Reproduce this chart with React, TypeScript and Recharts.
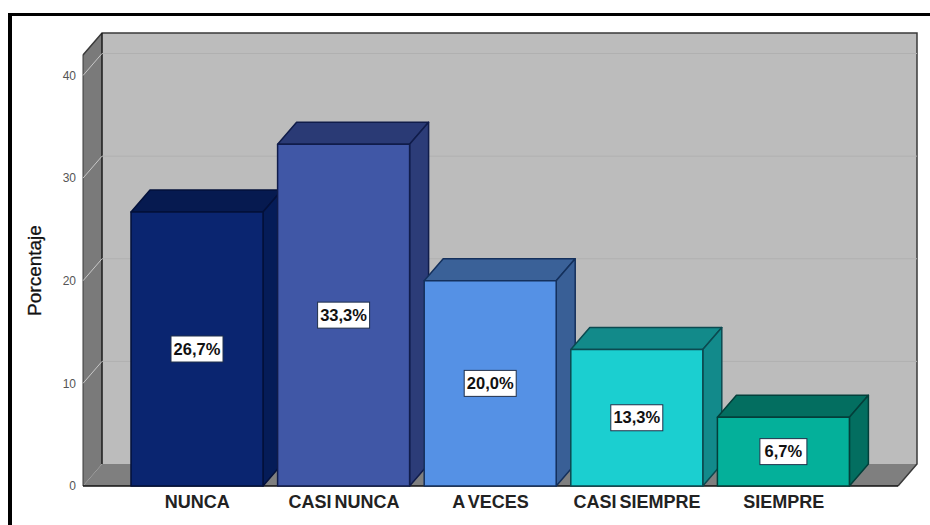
import React from "react";
import {
  BarChart,
  Bar,
  XAxis,
  YAxis,
  ReferenceArea,
  LabelList,
} from "recharts";

// Survey answer categories and their share of responses
const categories = ["NUNCA", "CASI NUNCA", "A VECES", "CASI SIEMPRE", "SIEMPRE"];
const percentages = [26.7, 33.3, 20.0, 13.3, 6.7];
const valueLabels = ["26,7%", "33,3%", "20,0%", "13,3%", "6,7%"];
const yTicks = [0, 10, 20, 30, 40];
const wallLines = [10, 20, 30, 40];

// Face colours for each 3D column
const frontColors = ["#0a2570", "#4057a6", "#5591e5", "#1bcfd0", "#04b09a"];
const topColors = ["#061a50", "#2a3a75", "#3a6198", "#128a8a", "#036e60"];
const sideColors = ["#051c58", "#2c3c78", "#395f96", "#128a8b", "#036e60"];
const edgeColors = ["#03103a", "#101c4a", "#14305c", "#0b4a50", "#033f3a"];

// Extrusion of the 3D box, in pixels
const DEPTH_X = 19;
const DEPTH_Y = 22;
// Gap between the plot edges and the first and last category bands
const PAD = 41;

const FONT = "'Liberation Sans', Arial, sans-serif";

const rows = categories.map((name, i) => ({ name, value: percentages[i] }));

const pts = (list: number[][]) => list.map((p) => p.join(",")).join(" ");

// Box column: front face, top face and right-hand side face
function Column(props: any) {
  const { x, y, width, height, index } = props;
  const r = x + width;
  const b = y + height;
  const edge = edgeColors[index];
  return (
    <g stroke={edge} strokeWidth={1.5} strokeLinejoin="round">
      <polygon
        fill={topColors[index]}
        points={pts([[x, y], [x + DEPTH_X, y - DEPTH_Y], [r + DEPTH_X, y - DEPTH_Y], [r, y]])}
      />
      <polygon
        fill={sideColors[index]}
        points={pts([[r, y], [r + DEPTH_X, y - DEPTH_Y], [r + DEPTH_X, b - DEPTH_Y], [r, b]])}
      />
      <rect x={x} y={y} width={width} height={height} fill={frontColors[index]} />
    </g>
  );
}

// Chart box: back wall, left wall and floor behind the columns.
// The area spans the category bands, so the axis padding is added back on each side.
function Room(props: any) {
  const { y, height } = props;
  const x = props.x - PAD;
  const r = props.x + props.width + PAD;
  const b = y + height;
  return (
    <g>
      <rect x={x + DEPTH_X} y={y - DEPTH_Y} width={r - x} height={height} fill="#bcbcbc" />
      <polygon
        fill="#7a7a7a"
        points={pts([[x, y], [x + DEPTH_X, y - DEPTH_Y], [x + DEPTH_X, b - DEPTH_Y], [x, b]])}
      />
      <polygon
        fill="#7f7f7f"
        points={pts([[x, b], [x + DEPTH_X, b - DEPTH_Y], [r + DEPTH_X, b - DEPTH_Y], [r, b]])}
      />
      <polyline
        fill="none"
        stroke="#3a3a3a"
        strokeWidth={1.5}
        points={pts([[x, y], [x + DEPTH_X, y - DEPTH_Y], [r + DEPTH_X, y - DEPTH_Y], [r + DEPTH_X, b - DEPTH_Y], [r, b]])}
      />
      <line x1={x + DEPTH_X} y1={y - DEPTH_Y} x2={x + DEPTH_X} y2={b - DEPTH_Y} stroke="#1a1a1a" strokeWidth={1.5} />
      <line x1={x} y1={y} x2={x} y2={b} stroke="#3a3a3a" strokeWidth={1} />
      <line x1={x} y1={b} x2={r} y2={b} stroke="#111" strokeWidth={1.5} />
    </g>
  );
}

// Grid line running up the left wall and across the back wall
function WallLine(props: any) {
  const { y } = props;
  const x = props.x - PAD;
  const r = props.x + props.width + PAD;
  return (
    <g fill="none">
      <line x1={x} y1={y} x2={x + DEPTH_X} y2={y - DEPTH_Y} stroke="#c8c8c8" strokeWidth={1} />
      <line x1={x + DEPTH_X} y1={y - DEPTH_Y} x2={r + DEPTH_X} y2={y - DEPTH_Y} stroke="#b0b0b0" strokeWidth={1} />
    </g>
  );
}

// White tag with the percentage, centred on the front face
function ValueTag(props: any) {
  const { x, y, width, height, index } = props;
  const text = valueLabels[index];
  const w = text.length > 4 ? 52 : 47;
  const h = 26;
  const cx = x + width / 2;
  const cy = y + height / 2;
  return (
    <g>
      <rect x={cx - w / 2} y={cy - h / 2} width={w} height={h} fill="#ffffff" stroke="#20304a" strokeWidth={1} />
      <text
        x={cx}
        y={cy + 5.5}
        textAnchor="middle"
        fontFamily={FONT}
        fontSize={16.5}
        fontWeight={700}
        fill="#111"
      >
        {text}
      </text>
    </g>
  );
}

export default function App() {
  return (
    <div style={{ position: "absolute", left: 0, top: 0, width: 930, height: 525, background: "#fff", overflow: "hidden" }}>
      <div style={{ position: "absolute", left: 8, top: 13, right: 0, height: 3, background: "#000" }} />
      <div style={{ position: "absolute", left: 8, top: 13, bottom: 0, width: 4, background: "#000" }} />
      <BarChart
        width={930}
        height={525}
        data={rows}
        margin={{ top: 55, right: 32, bottom: 0, left: 8 }}
        style={{ position: "absolute", left: 0, top: 0 }}
      >
        <ReferenceArea y1={0} y2={42} ifOverflow="visible" shape={<Room />} />
        {wallLines.map((t) => (
          <ReferenceArea key={t} y1={t} y2={t} ifOverflow="visible" shape={<WallLine />} />
        ))}
        <XAxis
          dataKey="name"
          height={39}
          interval={0}
          padding={{ left: PAD, right: PAD }}
          axisLine={false}
          tickLine={false}
          tickMargin={3}
          tick={{ fontFamily: FONT, fontSize: 18, fontWeight: 700, fill: "#222", wordSpacing: -2 } as any}
        />
        <YAxis
          width={75}
          domain={[0, 42]}
          ticks={yTicks}
          axisLine={false}
          tickLine={false}
          tickMargin={1}
          tick={{ fontFamily: FONT, fontSize: 12, fill: "#555" }}
          label={{
            value: "Porcentaje",
            angle: -90,
            position: "insideLeft",
            dx: 21,
            dy: 0,
            style: { fontFamily: FONT, fontSize: 19, fill: "#111", stroke: "#111", strokeWidth: 0.3, textAnchor: "middle" },
          }}
        />
        <Bar dataKey="value" barSize={132} isAnimationActive={false} shape={<Column />}>
          <LabelList dataKey="value" content={<ValueTag />} />
        </Bar>
      </BarChart>
    </div>
  );
}
